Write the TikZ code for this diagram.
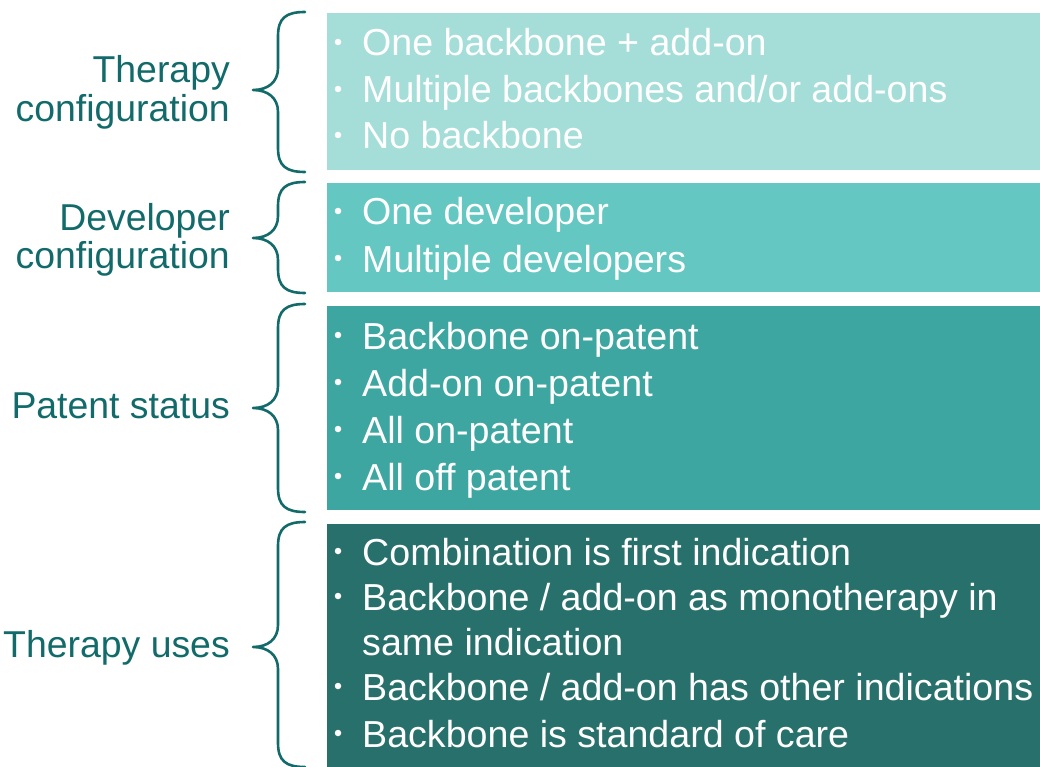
\documentclass[tikz,border=0pt]{standalone}
\usepackage{fontspec}
\setmainfont{Liberation Sans}
\begin{document}
\definecolor{boxA}{HTML}{A5DED9}
\definecolor{boxB}{HTML}{65C7C2}
\definecolor{boxC}{HTML}{3EA6A0}
\definecolor{boxD}{HTML}{28706B}
\definecolor{ink}{HTML}{126B6A}
\begin{tikzpicture}[x=1pt,y=-1pt,
  panel/.style={draw=none,inner sep=0,outer sep=0,anchor=north west,minimum width=713pt},
  itemtxt/.style={anchor=base west,inner sep=0,text=white,font=\fontsize{37.6}{42}\selectfont},
  dot/.style={circle,fill=white,inner sep=0,minimum size=6.5pt},
  lbl/.style={anchor=base east,inner sep=0,text=ink,font=\fontsize{37.4}{42}\selectfont},
  brace/.style={draw=ink,line width=2.6pt,line cap=round,line join=round}]
\useasboundingbox (0,0) rectangle (1040,767);
\newcommand\itemline[3]{%
  \node[itemtxt] (#1) at (362,#2) {#3};
  \node[dot] (#1d) at (338,#2-14) {};}
\newcommand\contline[3]{%
  \node[itemtxt] (#1) at (362,#2) {#3};}
\newcommand\curly[3]{% top, tip, bottom
  \draw[brace] (305,#1) .. controls (286,#1) and (278,#1+6) .. (278,#1+24)
    -- (278,#2-22) .. controls (278,#2-8) and (268,#2) .. (253,#2)
    .. controls (268,#2) and (278,#2+8) .. (278,#2+22)
    -- (278,#3-24) .. controls (278,#3-6) and (286,#3) .. (305,#3);}

% coloured panels
\node[panel,fill=boxA,minimum height=157pt] (p1) at (327,13) {};
\node[panel,fill=boxB,minimum height=109pt] (p2) at (327,183) {};
\node[panel,fill=boxC,minimum height=204pt] (p3) at (327,306) {};
\node[panel,fill=boxD,minimum height=243pt] (p4) at (327,524) {};

% panel contents
\itemline{a1}{56}{One backbone + add-on}
\itemline{a2}{103}{Multiple backbones and/or add-ons}
\itemline{a3}{149}{No backbone}
\itemline{b1}{225}{One developer}
\itemline{b2}{272}{Multiple developers}
\itemline{c1}{349}{Backbone on-patent}
\itemline{c2}{396}{Add-on on-patent}
\itemline{c3}{443}{All on-patent}
\itemline{c4}{490}{All off patent}
\itemline{d1}{565}{Combination is first indication}
\itemline{d2}{610}{Backbone / add-on as monotherapy in}
\contline{d3}{655}{same indication}
\itemline{d4}{700}{Backbone / add-on has other indications}
\itemline{d5}{747}{Backbone is standard of care}

% category labels
\node[lbl] (l1a) at (230,83) {Therapy};
\node[lbl] (l1b) at (230,122) {configuration};
\node[lbl] (l2a) at (230,230) {Developer};
\node[lbl] (l2b) at (230,268) {configuration};
\node[lbl] (l3) at (230,418) {Patent status};
\node[lbl] (l4) at (230,657) {Therapy uses};

% braces
\curly{12}{90}{172}
\curly{182}{238}{293}
\curly{304}{408}{512}
\curly{522}{647}{767}
\end{tikzpicture}
\end{document}
